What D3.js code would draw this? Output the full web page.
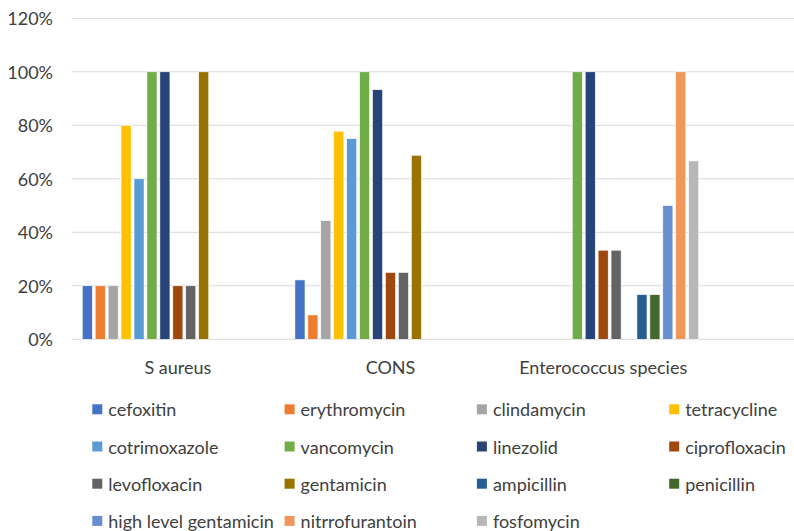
<!DOCTYPE html>
<html>
<head>
<meta charset="utf-8">
<script src="https://cdn.jsdelivr.net/npm/d3@7"></script>
<style>
  html, body { margin: 0; padding: 0; background: #fff; }
  svg { display: block; }
  text { font-family: Lato, "Liberation Sans", sans-serif; fill: #404040; }
</style>
</head>
<body>
<svg id="chart" width="794" height="531"></svg>
<script>
// Organisms on the category axis
const organisms = ["S aureus", "CONS", "Enterococcus species"];

// Antibiotics (one series each), in legend order
const antibiotics = [
  "cefoxitin", "erythromycin", "clindamycin", "tetracycline",
  "cotrimoxazole", "vancomycin", "linezolid", "ciprofloxacin",
  "levofloxacin", "gentamicin", "ampicillin", "penicillin",
  "high level gentamicin", "nitrrofurantoin", "fosfomycin"
];

// Sensitivity (%) per organism, same order as antibiotics; null = not tested
const sAureus     = [20, 20, 20, 80, 60, 100, 100, 20, 20, 100, null, null, null, null, null];
const cons        = [22.2, 9.1, 44.4, 77.8, 75, 100, 93.3, 25, 25, 68.8, null, null, null, null, null];
const enterococci = [null, null, null, null, null, 100, 100, 33.3, 33.3, null, 16.7, 16.7, 50, 100, 66.7];

// Y-axis ticks (%)
const yTicks = [0, 20, 40, 60, 80, 100, 120];

const seriesColors = [
  "#4472C4", "#ED7D31", "#A5A5A5", "#FFC000",
  "#5B9BD5", "#70AD47", "#264478", "#9E480E",
  "#636363", "#997300", "#255E91", "#43682B",
  "#698ED0", "#F1975A", "#B7B7B7"
];

const table = [sAureus, cons, enterococci];

const svg = d3.select("#chart");

const plot = { left: 71.5, right: 794, top: 18.3, bottom: 339.3 };

const y = d3.scaleLinear().domain([0, 120]).range([plot.bottom, plot.top]);

const x0 = d3.scaleBand()
  .domain(organisms)
  .range([plot.left, plot.left + 638])
  .paddingInner(0.0877)
  .paddingOuter(0.0439);

const x1 = d3.scaleBand()
  .domain(antibiotics)
  .range([0, x0.bandwidth()])
  .paddingInner(0.22)
  .paddingOuter(0.11);

const color = d3.scaleOrdinal().domain(antibiotics).range(seriesColors);

// Horizontal gridlines
svg.append("g")
  .selectAll("line")
  .data(yTicks)
  .join("line")
  .attr("x1", plot.left)
  .attr("x2", plot.right)
  .attr("y1", d => y(d))
  .attr("y2", d => y(d))
  .attr("stroke", "#D9D9D9")
  .attr("stroke-width", 1);

// Y-axis labels
svg.append("g")
  .selectAll("text")
  .data(yTicks)
  .join("text")
  .attr("x", 53)
  .attr("y", d => y(d))
  .attr("text-anchor", "end")
  .attr("dominant-baseline", "central")
  .style("font-size", "18px")
  .text(d => d + "%");

// Bars
const groups = svg.append("g")
  .selectAll("g")
  .data(organisms)
  .join("g")
  .attr("transform", d => `translate(${x0(d)},0)`);

groups.selectAll("rect")
  .data((org, i) => antibiotics.map((ab, j) => ({ ab, v: table[i][j] })).filter(d => d.v != null))
  .join("rect")
  .attr("x", d => x1(d.ab))
  .attr("width", x1.bandwidth())
  .attr("y", d => y(d.v))
  .attr("height", d => y(0) - y(d.v))
  .attr("fill", d => color(d.ab))
  .attr("stroke", "#ffffff")
  .attr("stroke-width", 0.6);

// Category labels
const xAxis = d3.axisBottom(x0).tickSize(0).tickPadding(0);
const xg = svg.append("g")
  .attr("transform", `translate(0,${plot.bottom})`)
  .call(xAxis);
xg.select(".domain").remove();
xg.selectAll("text")
  .attr("y", 28)
  .attr("dy", null)
  .attr("dominant-baseline", "central")
  .style("font-size", "18px")
  .style("font-family", 'Lato, "Liberation Sans", sans-serif')
  .attr("fill", "#404040");

// Legend: 4 columns, row-major
const legendCols = 4;
const legend = svg.append("g")
  .selectAll("g")
  .data(antibiotics)
  .join("g")
  .attr("transform", (d, i) => {
    const col = i % legendCols, row = Math.floor(i / legendCols);
    return `translate(${92.3 + col * 192.3},${409.3 + row * 37.2})`;
  });

legend.append("rect")
  .attr("x", 0)
  .attr("y", -5)
  .attr("width", 10)
  .attr("height", 10)
  .attr("fill", d => color(d));

legend.append("text")
  .attr("x", 16)
  .attr("y", 0)
  .attr("dominant-baseline", "central")
  .style("font-size", "18px")
  .text(d => d);
</script>
</body>
</html>
